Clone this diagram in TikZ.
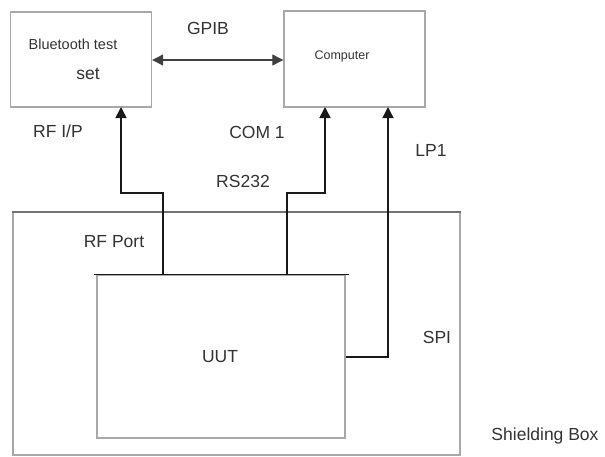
\documentclass[tikz,border=0pt]{standalone}
\usepackage{fontspec}
\setmainfont{Liberation Sans}
\usetikzlibrary{arrows.meta}
\definecolor{boxgray}{HTML}{A8A8A8}
\definecolor{txtgray}{HTML}{333333}
\tikzset{
  box/.style={draw=boxgray, line width=1.4pt, minimum width=#1, inner sep=0pt},
  lbl/.style={text=txtgray, inner sep=0pt, font=\fontsize{17.5}{20}\selectfont},
  conn/.style={draw=black!90, line width=1.6pt},
  tip/.style={-{Triangle[length=11pt,width=11pt]}},
}
\begin{document}
\begin{tikzpicture}[x=1pt,y=-1pt]
\useasboundingbox (0,0) rectangle (605,456);
\fill[white] (0,0) rectangle (605,456);
% shielding box
\draw[draw=boxgray, line width=1.2pt] (13,212) -- (13,455) -- (460,455) -- (460,212);
\draw[draw=black!55, line width=2pt] (12,212) -- (461,212);
% boxes
\node[box=141pt, minimum height=95pt] (bt) at (81,59.5) {};
\node[box=141pt, minimum height=96pt] (comp) at (354.5,59) {};
\node[box=248pt, minimum height=163pt] (uut) at (221,356.5) {};
\draw[conn, line width=1.5pt] (uut.north west) ++(-2,0) -- ([xshift=3pt]uut.north east);
% texts
\node[lbl, font=\fontsize{14.5}{17}\selectfont] (btt) at (73,44) {Bluetooth test};
\node[lbl] (bts) at (88,74) {set};
\node[lbl, font=\fontsize{12.5}{15}\selectfont] (ct) at (342,56) {Computer};
\node[lbl] (gpib) at (208,28) {GPIB};
\node[lbl] (rfip) at (58,131) {RF I/P};
\node[lbl] (com1) at (257,132) {COM 1};
\node[lbl] (rs232) at (243,181) {RS232};
\node[lbl] (lp1) at (431,150) {LP1};
\node[lbl] (rfport) at (114,242) {RF Port};
\node[lbl] (uutl) at (220,357) {UUT};
\node[lbl] (spi) at (437,337) {SPI};
\node[lbl] (shb) at (545,436) {Shielding Box};
% anchor points
\coordinate (u1) at (163,275);
\coordinate (u2) at (287,275);
\coordinate (u3) at (uut.east |- 0,357);
\coordinate (b1) at (121,107);
\coordinate (c1) at (325,107);
\coordinate (c2) at (388,107);
% connectors
\draw[conn, tip] (u1) -- (163,193) -- (121,193) -- (b1);
\draw[conn, tip] (u2) -- (287,193) -- (325,193) -- (c1);
\draw[conn, tip, line width=1.3pt] (u3) -- (388,357) -- (c2);
\draw[draw=black!75, line width=1.2pt, {Triangle[length=11pt,width=11pt]}-{Triangle[length=11pt,width=11pt]}] (bt.east |- 0,60) -- (comp.west |- 0,60);
\end{tikzpicture}
\end{document}
